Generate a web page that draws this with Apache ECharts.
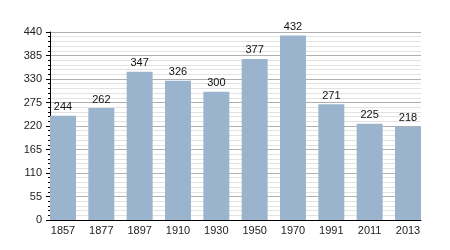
<!DOCTYPE html>
<html><head><meta charset="utf-8">
<script src="https://cdn.jsdelivr.net/npm/echarts@6/dist/echarts.min.js"></script>
<style>html,body{margin:0;padding:0;background:#fff}#c{width:450px;height:250px}</style>
</head><body><div id="c"></div>
<script>
var years = ['1857','1877','1897','1910','1930','1950','1970','1991','2011','2013'];
var population = [244,262,347,326,300,377,432,271,225,218];
var yTicks = [0,55,110,165,220,275,330,385,440];

var FONT = 'Liberation Sans, Arial, sans-serif';
var chart = echarts.init(document.getElementById('c'), null, {renderer:'canvas'});
chart.setOption({
  animation:false,
  grid:[
    {left:50, width:371, top:32, bottom:30, containLabel:false},
    {left:43.83, width:383.33, top:32, bottom:30, containLabel:false}
  ],
  xAxis:[{
    gridIndex:0, type:'value', min:0, max:1,
    axisLine:{show:true, onZero:false, lineStyle:{color:'#000', width:1}},
    axisTick:{show:false}, axisLabel:{show:false}, splitLine:{show:false}
  },{
    gridIndex:1, type:'category', data:years, boundaryGap:true,
    axisLine:{show:false},
    axisTick:{show:false},
    axisLabel:{color:'#222', fontSize:11, fontFamily:FONT, margin:5}
  }],
  yAxis:[{
    gridIndex:0, type:'value', min:yTicks[0], max:yTicks[yTicks.length-1], interval:55,
    axisLine:{show:true, lineStyle:{color:'#000'}},
    axisTick:{show:true, length:4, lineStyle:{color:'#000'}},
    minorTick:{show:true, splitNumber:5, length:2, lineStyle:{color:'#000'}},
    splitLine:{show:true, lineStyle:{color:'#b0b0b0'}},
    minorSplitLine:{show:true, lineStyle:{color:'#e2e2e2'}},
    axisLabel:{color:'#222', fontSize:11, fontFamily:FONT, margin:8}
  },{
    gridIndex:1, type:'value', min:yTicks[0], max:yTicks[yTicks.length-1], interval:55,
    show:false, splitLine:{show:false}
  }],
  series:[{
    type:'bar', xAxisIndex:1, yAxisIndex:1, data:population, barCategoryGap:'32.2%',
    itemStyle:{color:'#9bb4cd'},
    label:{show:true, position:'top', color:'#111', fontSize:11, fontFamily:FONT, distance:3}
  }]
});
</script></body></html>
